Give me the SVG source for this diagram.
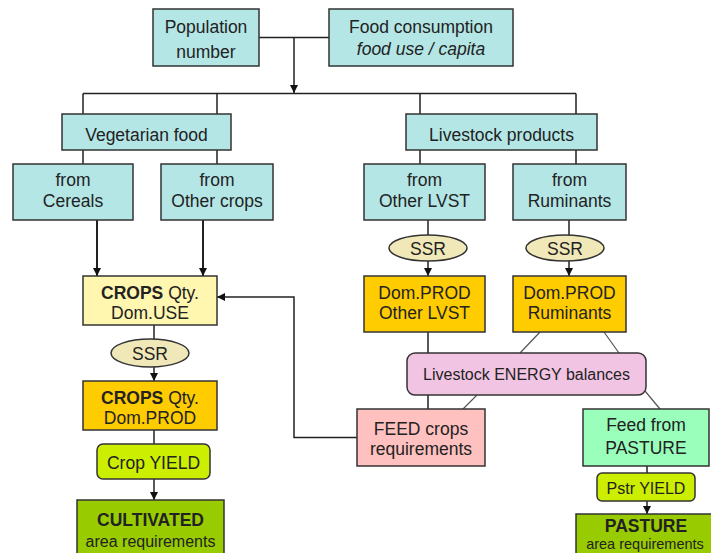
<svg xmlns="http://www.w3.org/2000/svg" width="711" height="553" viewBox="0 0 711 553">
<defs>
<marker id="ah" viewBox="0 0 10 10" refX="10" refY="5" markerWidth="8" markerHeight="8" markerUnits="userSpaceOnUse" orient="auto"><path d="M0,0 L10,5 L0,10 z" fill="#111"/></marker>
<style>
text{font-family:"Liberation Sans",Arial,sans-serif;font-size:17.5px;fill:#222;text-anchor:middle}
.box{stroke:#333;stroke-width:1.5}
.cy{fill:#b4e6e6}
.ln{fill:none;stroke:#222;stroke-width:1.5}
.th{fill:none;stroke:#222;stroke-width:2}
.gl{fill:none;stroke:#555;stroke-width:1.2}
.b{font-weight:bold}
.s{font-size:16px}
.xs{font-size:16px}
.xxs{font-size:14.5px}
</style>
</defs>
<rect width="711" height="553" fill="#fff"/>
<g id="connectors">
<path class="ln" d="M259,37.5 H329"/>
<path class="ln" d="M294,37.5 V93" marker-end="url(#ah)"/>
<path class="ln" d="M83,93.5 H576"/>
<path class="ln" d="M83,93.5 V114 M217,93.5 V114 M420,93.5 V114 M576,93.5 V114"/>
<path class="ln" d="M83,150 V164 M217,150 V164 M420,150 V164 M576,150 V164"/>
<path class="th" d="M97,220 V276" marker-end="url(#ah)"/>
<path class="th" d="M203,220 V276" marker-end="url(#ah)"/>
<path class="ln" d="M428,220 V235 M569,220 V235"/>
<path class="ln" d="M428,261 V276" marker-end="url(#ah)"/>
<path class="ln" d="M569,261 V276" marker-end="url(#ah)"/>
<path class="ln" d="M154,325 V339"/>
<path class="ln" d="M154,367 V381" marker-end="url(#ah)"/>
<path class="ln" d="M154,430 V444"/>
<path class="ln" d="M154,479 V500" marker-end="url(#ah)"/>
<path class="ln" d="M357,437.5 H294 V297 H217" marker-end="url(#ah)"/>
<path class="ln" d="M428,332 V353 M428,395 V409"/>
<path class="gl" d="M540,332 L520,353 M604,332 L619,353 M477,395 L463,409 M645,391 L660,409"/>
<path class="ln" d="M647,466 V473"/>
<path class="ln" d="M647,501 V514" marker-end="url(#ah)"/>
</g>
<g id="population"><rect class="box cy" x="153" y="9" width="106" height="57"/><text x="206" y="33">Population</text><text x="206" y="58">number</text></g>
<g id="food-consumption"><rect class="box cy" x="329" y="9" width="184" height="57"/><text x="421" y="33">Food consumption</text><text x="421" y="54.5" font-style="italic">food use / capita</text></g>
<g id="vegetarian"><rect class="box cy" x="62" y="114" width="169" height="36"/><text x="146.5" y="141">Vegetarian food</text></g>
<g id="livestock"><rect class="box cy" x="406" y="114" width="191" height="36"/><text x="501.5" y="141">Livestock products</text></g>
<g id="cereals"><rect class="box cy" x="13" y="164" width="120" height="56"/><text x="73" y="186">from</text><text x="73" y="207">Cereals</text></g>
<g id="other-crops"><rect class="box cy" x="161" y="164" width="112" height="56"/><text x="217" y="186">from</text><text x="217" y="207">Other crops</text></g>
<g id="other-lvst"><rect class="box cy" x="364" y="164" width="121" height="56"/><text x="424.5" y="186">from</text><text x="424.5" y="207">Other LVST</text></g>
<g id="ruminants"><rect class="box cy" x="513" y="164" width="113" height="56"/><text x="569.5" y="186">from</text><text x="569.5" y="207">Ruminants</text></g>
<g id="ssr-lvst"><ellipse class="box" cx="428" cy="248" rx="39" ry="13" fill="#f0e8b8" stroke-width="1.2"/><text x="428" y="254.5">SSR</text></g>
<g id="ssr-rum"><ellipse class="box" cx="565" cy="248" rx="39" ry="13" fill="#f0e8b8" stroke-width="1.2"/><text x="565" y="254.5">SSR</text></g>
<g id="crops-use"><rect class="box" x="83" y="276" width="134" height="49" fill="#fff6b0"/><text x="150" y="299"><tspan class="b">CROPS</tspan> Qty.</text><text x="150" y="318.5">Dom.USE</text></g>
<g id="ssr-crops"><ellipse class="box" cx="150" cy="353" rx="39" ry="14" fill="#f0e8b8" stroke-width="1.2"/><text x="150" y="360">SSR</text></g>
<g id="crops-prod"><rect class="box" x="83" y="381" width="134" height="49" fill="#ffcc00"/><text x="150" y="403.5"><tspan class="b">CROPS</tspan> Qty.</text><text x="150" y="423.5">Dom.PROD</text></g>
<g id="crop-yield"><rect class="box" x="97" y="444" width="113" height="35" rx="6" fill="#ccee00"/><text x="153.5" y="468.5">Crop YIELD</text></g>
<g id="cultivated"><rect class="box" x="77" y="500" width="147" height="60" fill="#99cc00"/><text class="b" x="150.5" y="525.5">CULTIVATED</text><text class="xs" x="150.5" y="547">area requirements</text></g>
<g id="prod-lvst"><rect class="box" x="364" y="276" width="121" height="56" fill="#ffcc00"/><text x="424.5" y="299">Dom.PROD</text><text x="424.5" y="319">Other LVST</text></g>
<g id="prod-rum"><rect class="box" x="513" y="276" width="113" height="56" fill="#ffcc00"/><text x="569.5" y="299">Dom.PROD</text><text x="569.5" y="319">Ruminants</text></g>
<g id="energy"><rect class="box" x="407" y="353" width="239" height="42" rx="8" fill="#f2c4e4" stroke-width="1.2"/><text class="s" x="526.5" y="380">Livestock ENERGY balances</text></g>
<g id="feed-crops"><rect class="box" x="357" y="409" width="128" height="57" fill="#ffc0c0"/><text x="421" y="435">FEED crops</text><text x="421" y="455">requirements</text></g>
<g id="feed-pasture"><rect class="box" x="583" y="409" width="126" height="57" fill="#99ffbb"/><text x="646" y="431">Feed from</text><text x="646" y="454">PASTURE</text></g>
<g id="pstr-yield"><rect class="box" x="597" y="473" width="98" height="28" rx="5" fill="#ccee00"/><text class="s" x="646" y="493.5">Pstr YIELD</text></g>
<g id="pasture"><rect class="box" x="576" y="514" width="145" height="50" fill="#99cc00"/><text class="b" x="646" y="531.5">PASTURE</text><text class="xxs" x="645" y="548.5">area requirements</text></g>
</svg>
